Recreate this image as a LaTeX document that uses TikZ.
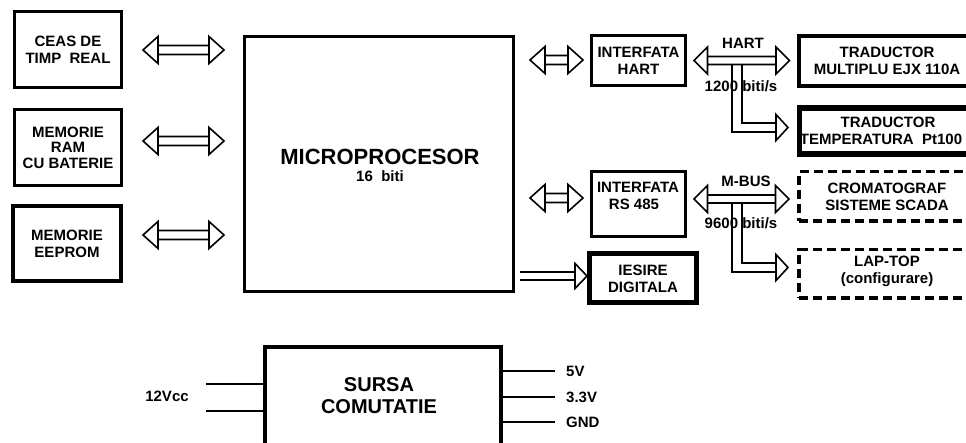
\documentclass[tikz,border=0pt]{standalone}
\usepackage{fontspec}
\setmainfont{Liberation Sans}
\usetikzlibrary{calc}
\tikzset{
  every node/.style={font=\bfseries\fontsize{15}{17}\selectfont, align=center, inner sep=0pt},
  box/.style={draw, line width=3pt},
  heavybox/.style={draw, line width=4.5pt},
  dashbox/.style={draw, line width=3.5pt, dash pattern=on 9pt off 5pt},
  conn/.style={line width=1.6pt, line join=miter},
  wire/.style={line width=1.8pt},
}
% hollow double-headed arrow: left tip, right tip, head length, half height, shaft half gap
\newcommand\hollowdbl[5]{%
  \draw[conn] let \p1=(#1), \p2=(#2) in
   (\x1,\y1) -- ++(#3,#4) -- ++(0pt,-2*#4) -- cycle
   (\x2,\y2) -- ++(-#3,#4) -- ++(0pt,-2*#4) -- cycle
   (\x1+#3,\y1+#5) -- (\x2-#3,\y2+#5)
   (\x1+#3,\y1-#5) -- (\x2-#3,\y2-#5);
}
% hollow single head pointing right: tip, head length, half height
\newcommand\hollowhead[3]{%
  \draw[conn] let \p1=(#1) in
   (\x1,\y1) -- ++(-#2,#3) -- ++(0pt,-2*#3) -- cycle;
}
\begin{document}
\begin{tikzpicture}[x=1pt,y=-1pt]
\useasboundingbox (0,0) rectangle (966,443);
\clip (0,0) rectangle (966,443);

% left column
\node[box, minimum width=107pt, minimum height=76pt] (ceas) at (68,49.5) {CEAS DE\\TIMP~~REAL};
\node[box, minimum width=107pt, minimum height=76pt, font=\bfseries\fontsize{15}{15.5}\selectfont] (ram) at (68,147.5) {MEMORIE\\RAM\\CU BATERIE};
\node[heavybox, minimum width=108pt, minimum height=75pt] (eeprom) at (67,243.5) {MEMORIE\\EEPROM};

% microprocessor
\node[box, minimum width=269pt, minimum height=255pt] (micro) at (379,164) {};
\node (microtext) at (380,165) {{\fontsize{22}{24}\selectfont MICROPROCESOR}\\16~~biti};

% interfaces
\node[box, minimum width=94pt, minimum height=50pt] (ihart) at (638.5,60.5) {INTERFATA\\HART};
\node[box, minimum width=94pt, minimum height=65pt] (irs) at (638.5,204) {};
\node (irstext) at (638,196) {INTERFATA\\RS 485\hspace*{8pt}};
\node[draw, line width=5pt, minimum width=107pt, minimum height=49pt] (iesire) at (643,278.5) {IESIRE\\DIGITALA};

% right column (cut off by the page edge)
\node[draw, line width=3.5pt, minimum width=176pt, minimum height=50pt] (trad1) at (887,61) {TRADUCTOR\\MULTIPLU EJX 110A};
\node[draw, line width=5.5pt, minimum width=176pt, minimum height=46pt] (trad2) at (887.5,131) {};
\node (trad2text) at (881,131) {\hspace*{14pt}TRADUCTOR\\TEMPERATURA~~Pt100};
\node[dashbox, minimum width=176pt, minimum height=49.5pt] (crom) at (887,196.5) {CROMATOGRAF\\SISTEME SCADA};
\node[dashbox, minimum width=176pt, minimum height=48.5pt] (laptop) at (887,274) {};
\node (laptoptext) at (887,271.5) {LAP-TOP\\(configurare)};

% power supply
\node[draw, line width=4.5pt, minimum width=236pt, minimum height=150pt, anchor=north] (sursa) at (383,345) {};
\node[font=\bfseries\fontsize{20}{22}\selectfont] (sursatext) at (379,396) {SURSA\\COMUTATIE};

% double arrows, left column <-> microprocessor
\coordinate (c1l) at (143,50);  \coordinate (c1r) at (224,50);
\coordinate (c2l) at (143,141); \coordinate (c2r) at (224,141);
\coordinate (c3l) at (143,235); \coordinate (c3r) at (224,235);
\hollowdbl{c1l}{c1r}{15pt}{13.5pt}{4.5pt}
\hollowdbl{c2l}{c2r}{15pt}{13.5pt}{4.5pt}
\hollowdbl{c3l}{c3r}{15pt}{13.5pt}{4.5pt}

% microprocessor <-> interfaces
\coordinate (m1l) at (530,60);  \coordinate (m1r) at (583,60);
\coordinate (m2l) at (530,198); \coordinate (m2r) at (583,198);
\hollowdbl{m1l}{m1r}{15pt}{13.5pt}{4.5pt}
\hollowdbl{m2l}{m2r}{15pt}{13.5pt}{4.5pt}

% microprocessor -> digital output
\coordinate (dtail) at (520,276);
\coordinate (dtip) at (587,276);
\draw[conn] ($(dtail)+(0,-4)$) -- ($(dtip)+(-12,-4)$)
            ($(dtail)+(0,4)$) -- ($(dtip)+(-12,4)$);
\hollowhead{dtip}{12pt}{12.5pt}

% HART bus
\coordinate (hl) at (694,60.5); \coordinate (hr) at (789.5,60.5);
\hollowdbl{hl}{hr}{13.5pt}{13.5pt}{4pt}
\coordinate (hb) at (788,127.5);
\draw[conn] (732,64.5) |- ($(hb)+(-12,4.5)$)
            (742,64.5) |- ($(hb)+(-12,-4.5)$);
\hollowhead{hb}{12pt}{13pt}
\node (hartlbl) at (743,43.5) {HART};
\node (hartrate) at (741,86) {1200 biti/s};

% M-BUS
\coordinate (ml) at (694,199); \coordinate (mr) at (789,199);
\hollowdbl{ml}{mr}{13.5pt}{13.5pt}{4pt}
\coordinate (mb) at (788,267.5);
\draw[conn] (732,203) |- ($(mb)+(-12,4.5)$)
            (742,203) |- ($(mb)+(-12,-4.5)$);
\hollowhead{mb}{12pt}{13pt}
\node (mbuslbl) at (746,181) {M-BUS};
\node (mbusrate) at (741,223.5) {9600 biti/s};

% supply wires
\coordinate (in1) at (206,384);
\coordinate (in2) at (206,411);
\draw[wire] (in1) -- (in1 -| sursa.west)
            (in2) -- (in2 -| sursa.west);
\node (vin) at (167,396.5) {12Vcc};
\coordinate (o1) at (555,371);
\coordinate (o2) at (555,397);
\coordinate (o3) at (555,422);
\draw[wire] (o1 -| sursa.east) -- (o1)
            (o2 -| sursa.east) -- (o2)
            (o3 -| sursa.east) -- (o3);
\node[anchor=west] (v5) at (566,371.5) {5V};
\node[anchor=west] (v33) at (566,397) {3.3V};
\node[anchor=west] (gnd) at (566,422.5) {GND};
\end{tikzpicture}
\end{document}
